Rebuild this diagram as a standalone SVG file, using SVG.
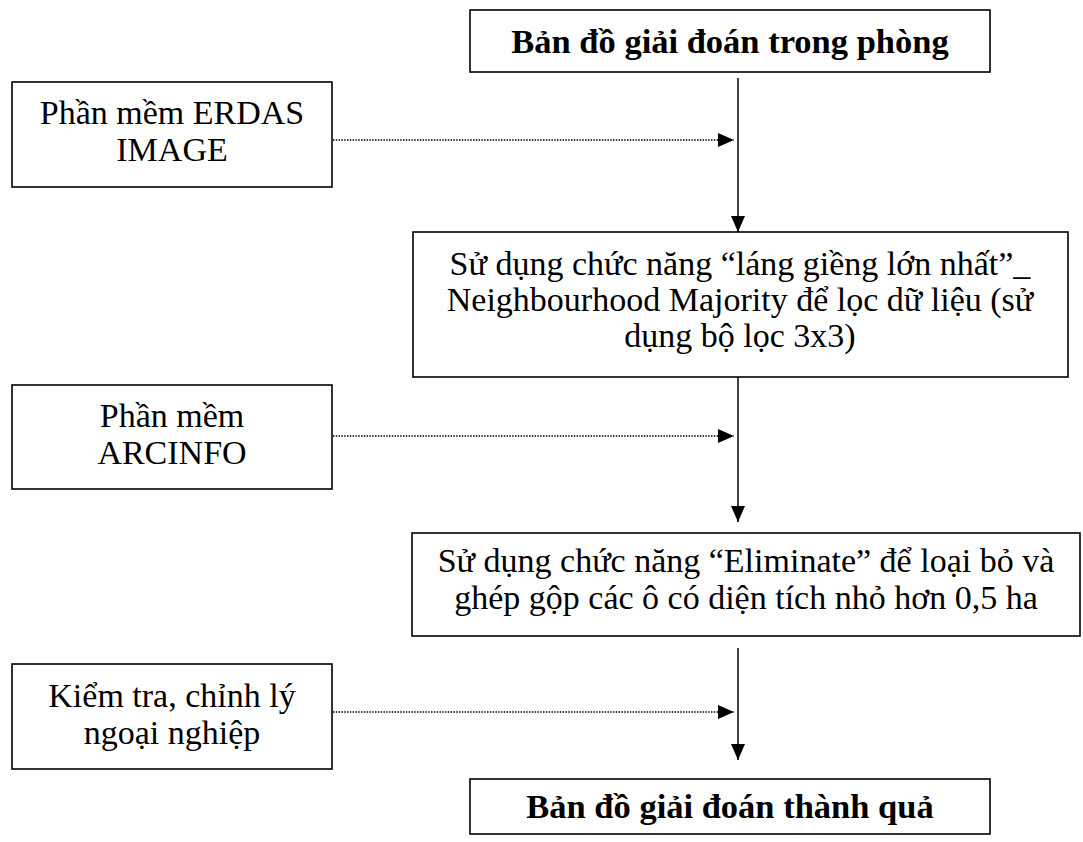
<svg xmlns="http://www.w3.org/2000/svg" width="1083" height="842" viewBox="0 0 1083 842">
<style>
.box{fill:#fff;stroke:#000;stroke-width:1.6}
.t{font-family:"Liberation Serif","Times New Roman",serif;font-size:34px;fill:#000;text-anchor:middle}
.b{font-weight:bold;font-size:34.5px}
.solid{stroke:#000;stroke-width:1.5;fill:none}
.dot{stroke:#000;stroke-width:1.4;stroke-dasharray:1.5 1.3;fill:none}
</style>
<defs>
<marker id="ah" markerWidth="16" markerHeight="14" refX="16" refY="7" orient="auto" markerUnits="userSpaceOnUse">
<path d="M0,0 L16,7 L0,14 Z" fill="#000"/>
</marker>
</defs>
<rect width="1083" height="842" fill="#fff"/>
<g id="connectors">
<line class="solid" x1="738" y1="78" x2="738" y2="232" marker-end="url(#ah)"/>
<line class="solid" x1="738" y1="377" x2="738" y2="522" marker-end="url(#ah)"/>
<line class="solid" x1="738" y1="648" x2="738" y2="760" marker-end="url(#ah)"/>
<line class="dot" x1="333" y1="140" x2="734" y2="140" marker-end="url(#ah)"/>
<line class="dot" x1="333" y1="436" x2="734" y2="436" marker-end="url(#ah)"/>
<line class="dot" x1="333" y1="712" x2="734" y2="712" marker-end="url(#ah)"/>
</g>
<g id="n-top">
<rect class="box" x="470" y="10" width="520" height="62"/>
<text class="t b" x="730" y="53">Bản đồ giải đoán trong phòng</text>
</g>
<g id="n-erdas">
<rect class="box" x="12" y="82" width="320" height="105"/>
<text class="t" x="172" y="124">Phần mềm ERDAS</text>
<text class="t" x="172" y="161">IMAGE</text>
</g>
<g id="n-filter">
<rect class="box" x="413" y="232" width="655" height="145"/>
<text class="t" x="740" y="275">Sử dụng chức năng “láng giềng lớn nhất”_</text>
<text class="t" x="740" y="311">Neighbourhood Majority để lọc dữ liệu (sử</text>
<text class="t" x="740" y="347">dụng bộ lọc 3x3)</text>
</g>
<g id="n-arcinfo">
<rect class="box" x="12" y="385" width="320" height="104"/>
<text class="t" x="172" y="427">Phần mềm</text>
<text class="t" x="172" y="464">ARCINFO</text>
</g>
<g id="n-eliminate">
<rect class="box" x="412" y="533" width="668" height="103"/>
<text class="t" x="746" y="572">Sử dụng chức năng “Eliminate” để loại bỏ và</text>
<text class="t" x="746" y="609">ghép gộp các ô có diện tích nhỏ hơn 0,5 ha</text>
</g>
<g id="n-check">
<rect class="box" x="12" y="664" width="320" height="105"/>
<text class="t" x="172" y="707">Kiểm tra, chỉnh lý</text>
<text class="t" x="172" y="744">ngoại nghiệp</text>
</g>
<g id="n-result">
<rect class="box" x="470" y="779" width="520" height="55"/>
<text class="t b" x="730" y="818">Bản đồ giải đoán thành quả</text>
</g>
</svg>
